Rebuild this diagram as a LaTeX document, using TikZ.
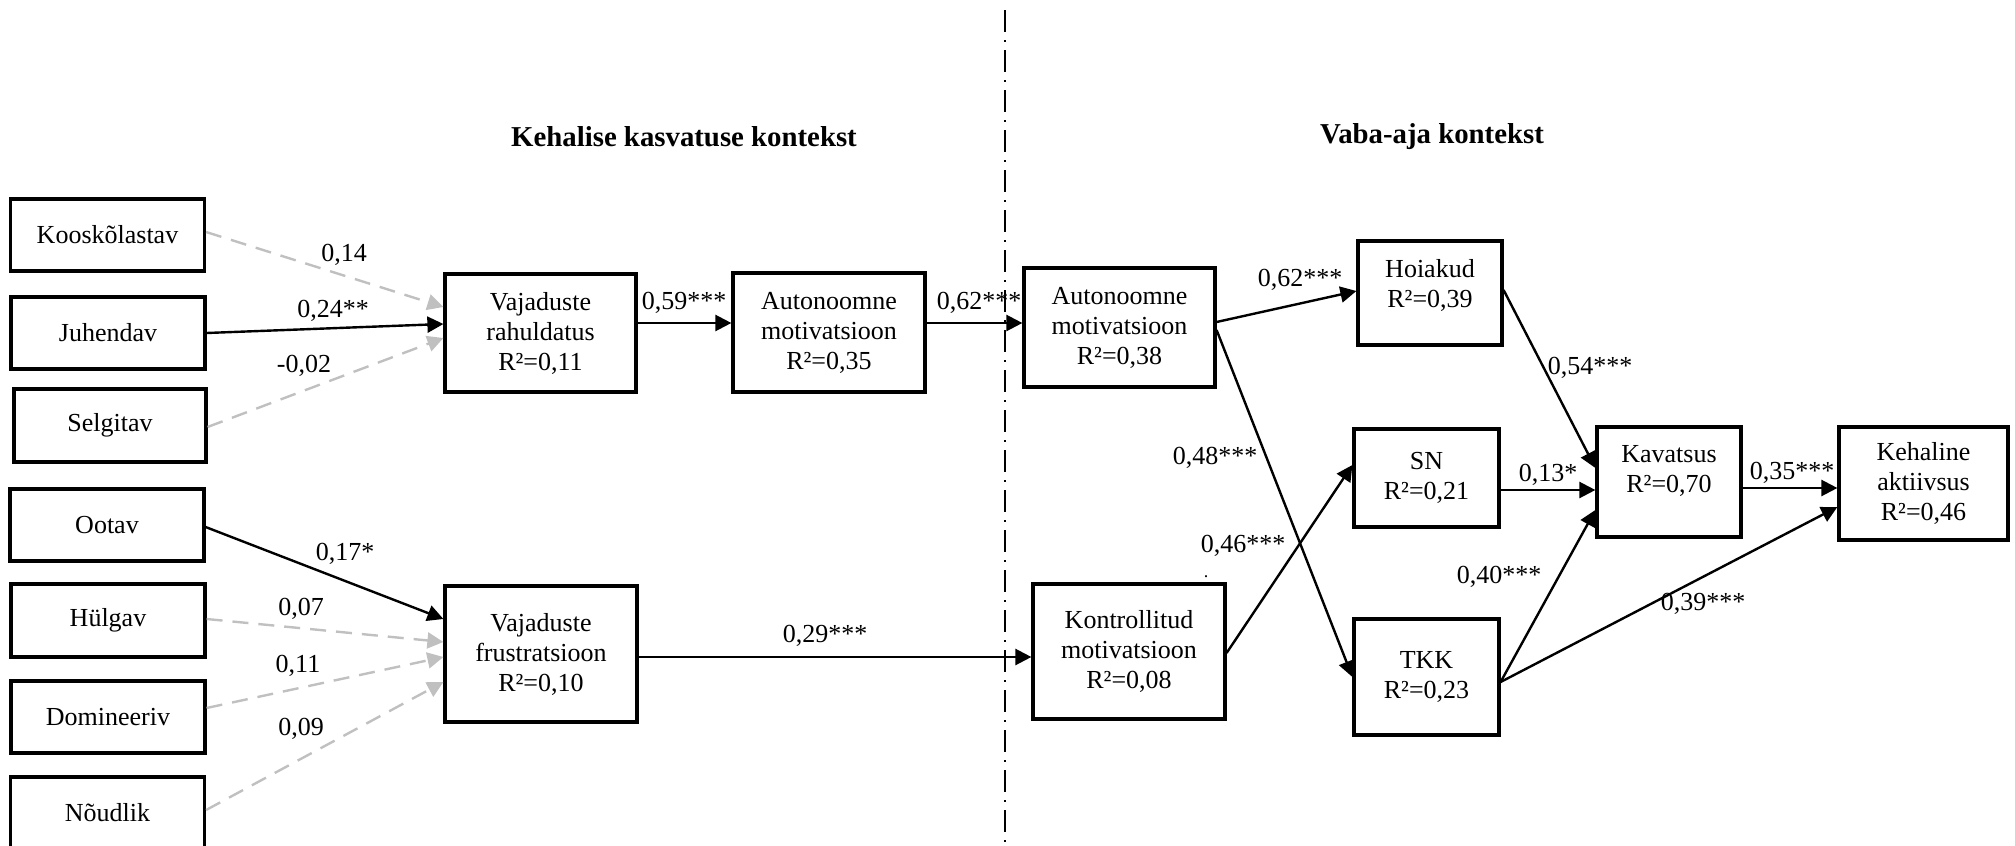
\documentclass[tikz,border=0pt]{standalone}
\usepackage{fontspec}
\setmainfont{Liberation Serif}
\usetikzlibrary{arrows.meta}
\definecolor{lgray}{RGB}{192,192,192}
\begin{document}
\begin{tikzpicture}[x=0.5pt,y=-0.5pt,
  box/.style={draw, line width=1.6pt, inner sep=0pt, align=center, font=\fontsize{13}{15}\selectfont},
  lbl/.style={inner sep=0pt, align=center, font=\fontsize{13}{15}\selectfont},
  head/.style={inner sep=0pt, font=\fontsize{14.4}{17}\selectfont\bfseries},
  arr/.style={line width=1.2pt, -{Triangle[length=8pt,width=8pt]}},
  garr/.style={line width=1.2pt, color=lgray, dash pattern=on 8pt off 5pt, -{Triangle[length=8pt,width=8pt]}},
  divline/.style={line width=1.2pt, dash pattern=on 11pt off 4pt on 1pt off 4pt}
]
\useasboundingbox (0,0) rectangle (2015,846);

% headings
\node[head] (h1) at (684,137) {Kehalise kasvatuse kontekst};
\node[head] (h2) at (1432,137) {Vaba-aja kontekst};

% divider
\coordinate (dtop) at (1005,10);
\coordinate (dbot) at (1005,846);
\draw[divline] (dtop) -- (dbot);

% left column
\node[box, minimum width=97pt, minimum height=36pt] (koos) at (107.5,235) {Kooskõlastav};
\node[box, minimum width=97pt, minimum height=36pt] (juh) at (108,333) {Juhendav};
\node[box, minimum width=96pt, minimum height=36.5pt] (sel) at (110,425.5) {Selgitav};
\node[box, minimum width=97pt, minimum height=36pt] (oot) at (107,525) {Ootav};
\node[box, minimum width=97pt, minimum height=36.5pt] (hul) at (108,620.5) {Hülgav};
\node[box, minimum width=97pt, minimum height=36pt] (dom) at (108,717) {Domineeriv};
\node[box, minimum width=97pt, minimum height=36pt] (nou) at (107.5,813) {Nõudlik};

% middle
\node[box, minimum width=95.5pt, minimum height=59pt] (rah) at (540.5,333) {Vajaduste\\rahuldatus\\R²=0,11};
\node[box, minimum width=96pt, minimum height=68pt] (fru) at (541,654) {Vajaduste\\frustratsioon\\R²=0,10};
\node[box, minimum width=96pt, minimum height=59.5pt] (aut1) at (829,332.5) {Autonoomne\\motivatsioon\\R²=0,35};

% right
\node[box, minimum width=95.5pt, minimum height=59.5pt] (aut2) at (1119.5,327.5) {Autonoomne\\motivatsioon\\R²=0,38};
\node[box, minimum width=96pt, minimum height=67.5pt] (kon) at (1129,651.5) {Kontrollitud\\motivatsioon\\R²=0,08};
\node[box, minimum width=72pt, minimum height=52pt] (hoi) at (1430,293) {};
\node[lbl] (hoit) at (1430,285) {Hoiakud\\R²=0,39};
\node[box, minimum width=72.5pt, minimum height=49pt] (sn) at (1426.5,478) {SN\\R²=0,21};
\node[box, minimum width=72.5pt, minimum height=58pt] (tkk) at (1426.5,677) {TKK\\R²=0,23};
\node[box, minimum width=72pt, minimum height=55pt] (kav) at (1669,482) {};
\node[lbl] (kavt) at (1669,471) {Kavatsus\\R²=0,70};
\node[box, minimum width=84.5pt, minimum height=56.5pt] (keh) at (1923.5,483.5) {Kehaline\\aktiivsus\\R²=0,46};

% connectors left
\draw[garr] (koos.east |- 0,232) -- (rah.west |- 0,307);
\draw[arr] (juh.east) -- (rah.west |- 0,324);
\draw[garr] (sel.east |- 0,427) -- (rah.west |- 0,338);
\draw[arr] (oot.east |- 0,527) -- (fru.west |- 0,619);
\draw[garr] (hul.east |- 0,619) -- (fru.west |- 0,642);
\draw[garr] (dom.east |- 0,708) -- (fru.west |- 0,657);
\draw[garr] (nou.east |- 0,810) -- (fru.west |- 0,682);

% connectors middle
\draw[arr] (rah.east |- 0,323) -- (aut1.west |- 0,323);
\draw[arr] (aut1.east |- 0,323) -- (aut2.west |- 0,323);
\draw[arr] (fru.east |- 0,657) -- (kon.west |- 0,657);

% connectors right
\draw[arr] (aut2.east |- 0,322) -- (hoi.west |- 0,291);
\draw[arr] (aut2.east |- 0,330) -- (tkk.west);
\draw[arr] (kon.east |- 0,653) -- (sn.west |- 0,465);
\draw[arr] (hoi.east |- 0,290) -- (kav.west |- 0,468);
\draw[arr] (sn.east |- 0,490) -- (kav.west |- 0,490);
\draw[arr] (tkk.east |- 0,682) -- (kav.west |- 0,510);
\draw[arr] (kav.east |- 0,488) -- (keh.west |- 0,488);
\draw[arr] (tkk.east |- 0,682) -- (keh.west |- 0,507);

% labels
\node[lbl] (l1) at (344,255) {0,14};
\node[lbl] (l2) at (333,311) {0,24**};
\node[lbl] (l3) at (304,366) {-0,02};
\node[lbl] (l4) at (345,554) {0,17*};
\node[lbl] (l5) at (301,609) {0,07};
\node[lbl] (l6) at (298,666) {0,11};
\node[lbl] (l7) at (301,729) {0,09};
\node[lbl] (l8) at (684,303) {0,59***};
\node[lbl] (l9) at (979,303) {0,62***};
\node[lbl] (l10) at (825,636) {0,29***};
\node[lbl] (l11) at (1300,280) {0,62***};
\node[lbl] (l12) at (1215,458) {0,48***};
\node[lbl] (l13) at (1243,546) {0,46***};
\node[lbl, font=\fontsize{9}{10}\selectfont] (l14) at (1206,577) {.};
\node[lbl] (l15) at (1590,368) {0,54***};
\node[lbl] (l16) at (1548,475) {0,13*};
\node[lbl] (l17) at (1499,577) {0,40***};
\node[lbl] (l18) at (1792,473) {0,35***};
\node[lbl] (l19) at (1703,604) {0,39***};
\end{tikzpicture}
\end{document}
